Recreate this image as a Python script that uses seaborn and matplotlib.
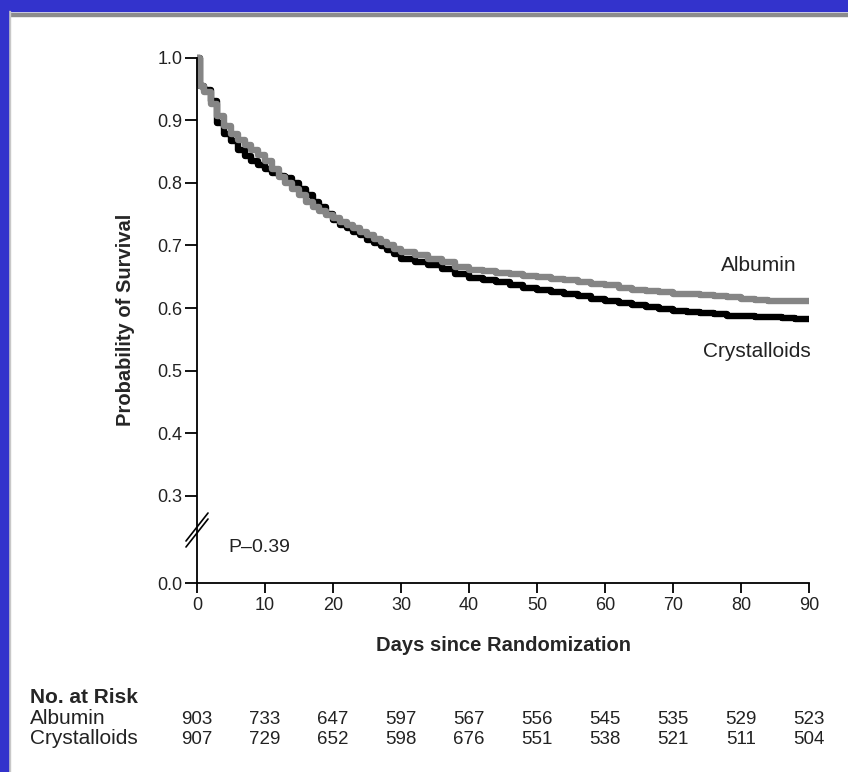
import numpy as np
import pandas as pd
import matplotlib
matplotlib.use("Agg")
import matplotlib.pyplot as plt
import matplotlib.transforms as mtransforms
from matplotlib.patches import Rectangle
import seaborn as sns

# ----------------------------------------------------------------------------
# Data
# ----------------------------------------------------------------------------
days = [0, 0.5, 1, 2, 3, 4, 5, 6, 7, 8, 9, 10, 11, 12, 13, 14, 15, 16, 17, 18,
        19, 20, 21, 22, 23, 24, 25, 26, 27, 28, 29, 30, 32, 34, 36, 38, 40, 42,
        44, 46, 48, 50, 52, 54, 56, 58, 60, 62, 64, 66, 68, 70, 72, 74, 76, 78,
        80, 82, 84, 86, 88, 90]

albumin_surv = [1.000, 0.955, 0.945, 0.925, 0.906, 0.890, 0.878, 0.868, 0.860,
                0.853, 0.845, 0.835, 0.822, 0.810, 0.800, 0.790, 0.780, 0.770,
                0.762, 0.755, 0.749, 0.744, 0.738, 0.732, 0.727, 0.721, 0.716,
                0.711, 0.705, 0.700, 0.694, 0.689, 0.684, 0.679, 0.673, 0.666,
                0.661, 0.659, 0.656, 0.654, 0.651, 0.649, 0.647, 0.645, 0.642,
                0.639, 0.636, 0.632, 0.629, 0.627, 0.625, 0.623, 0.622, 0.621,
                0.619, 0.617, 0.615, 0.613, 0.612, 0.612, 0.611, 0.611]

crystalloid_surv = [1.000, 0.955, 0.948, 0.930, 0.895, 0.878, 0.866, 0.853,
                    0.843, 0.835, 0.829, 0.822, 0.815, 0.811, 0.807, 0.800,
                    0.790, 0.780, 0.769, 0.761, 0.750, 0.740, 0.733, 0.727,
                    0.722, 0.716, 0.709, 0.704, 0.699, 0.693, 0.686, 0.678,
                    0.673, 0.668, 0.662, 0.654, 0.648, 0.645, 0.641, 0.637,
                    0.632, 0.628, 0.625, 0.622, 0.619, 0.615, 0.612, 0.608,
                    0.605, 0.601, 0.598, 0.596, 0.594, 0.592, 0.590, 0.588,
                    0.587, 0.586, 0.585, 0.584, 0.583, 0.583]

risk_days = [0, 10, 20, 30, 40, 50, 60, 70, 80, 90]
risk_albumin = [903, 733, 647, 597, 567, 556, 545, 535, 529, 523]
risk_crystalloids = [907, 729, 652, 598, 676, 551, 538, 521, 511, 504]

y_ticks = [0.3, 0.4, 0.5, 0.6, 0.7, 0.8, 0.9, 1.0]
x_ticks = [0, 10, 20, 30, 40, 50, 60, 70, 80, 90]

# broken axis: 0.0 drawn just below the break
Y_ZERO_POS = 0.161

BLUE = "#3333CC"
GRAY = "#858585"

df = pd.DataFrame({
    "day": days * 2,
    "survival": albumin_surv + crystalloid_surv,
    "group": ["Albumin"] * len(days) + ["Crystalloids"] * len(days),
})

sns.set_style("ticks")
plt.rcParams["font.family"] = ["Liberation Sans", "DejaVu Sans"]

fig = plt.figure(figsize=(8.48, 7.72), dpi=100)
ax = fig.add_axes([197 / 848, 1 - 583 / 772, 612 / 848, 525.5 / 772])

sns.lineplot(
    data=df, x="day", y="survival", hue="group",
    hue_order=["Crystalloids", "Albumin"],
    palette={"Albumin": GRAY, "Crystalloids": "black"},
    estimator=None, drawstyle="steps-post", linewidth=4.6,
    solid_capstyle="butt", legend=False, ax=ax,
)
for line in ax.lines:
    line.set_clip_on(False)

ax.set_xlim(0, 90)
ax.set_ylim(Y_ZERO_POS, 1.0)
ax.set_xticks(x_ticks)
ax.set_xticklabels([str(d) for d in x_ticks])
ax.set_yticks([Y_ZERO_POS] + y_ticks)
ax.set_yticklabels(["0.0"] + [f"{v:.1f}" for v in y_ticks])

for side in ["top", "right"]:
    ax.spines[side].set_visible(False)
for side in ["left", "bottom"]:
    ax.spines[side].set_linewidth(1.3)
    ax.spines[side].set_color("black")

ax.tick_params(axis="x", bottom=True, direction="out", length=7, width=1.3,
               pad=3, labelsize=13, colors="black", labelcolor="#222222")
ax.tick_params(axis="y", left=True, direction="out", length=8.5, width=1.3,
               pad=2, labelsize=13, colors="black", labelcolor="#222222")

ax.set_xlabel("Days since Randomization", fontsize=14.5, fontweight="bold")
ax.xaxis.set_label_coords(0.5, -0.118)
ax.xaxis.label.set_va("center")
ax.set_ylabel("Probability of Survival", fontsize=14.5, fontweight="bold")
ax.yaxis.set_label_coords(-0.117, 0.5)
ax.yaxis.label.set_va("center")

# axis break marks
for dy in (0.0, 0.0114):
    ax.plot([-0.018, 0.018], [0.0685 + dy, 0.1218 + dy], color="black",
            linewidth=1.2, transform=ax.transAxes, clip_on=False)

ax.text(4.6, 0.2097, "P\u20130.39", fontsize=14, color="#222222",
        ha="left", va="baseline")
ax.text(82.6, 0.6595, "Albumin", fontsize=15, color="#222222",
        ha="center", va="baseline")
ax.text(82.4, 0.5223, "Crystalloids", fontsize=15, color="#222222",
        ha="center", va="baseline")

# number at risk table
trans = mtransforms.blended_transform_factory(ax.transData, fig.transFigure)
fig.text(0.0354, 0.0894, "No. at Risk", fontsize=15, fontweight="bold",
         ha="left", va="baseline")
fig.text(0.0354, 0.0622, "Albumin", fontsize=15, color="#222222",
         ha="left", va="baseline")
fig.text(0.0354, 0.0363, "Crystalloids", fontsize=15, color="#222222",
         ha="left", va="baseline")
for d, a, c in zip(risk_days, risk_albumin, risk_crystalloids):
    ax.text(d, 0.0622, str(a), transform=trans, fontsize=13.5,
            color="#222222", ha="center", va="baseline", clip_on=False)
    ax.text(d, 0.0363, str(c), transform=trans, fontsize=13.5,
            color="#222222", ha="center", va="baseline", clip_on=False)

# slide frame: blue band on top and left, thin gray rule under the band
fig.add_artist(Rectangle((0, 1 - 11 / 772), 1, 11 / 772,
                         transform=fig.transFigure, color=BLUE, zorder=5))
fig.add_artist(Rectangle((8 / 848, 1 - 15.5 / 772), 1, 2.5 / 772,
                         transform=fig.transFigure, color="#8c8c8c", zorder=5))
fig.add_artist(Rectangle((0, 0), 8 / 848, 1,
                         transform=fig.transFigure, color=BLUE, zorder=6))
fig.add_artist(Rectangle((8 / 848, 0), 2 / 848, 1 - 11 / 772,
                         transform=fig.transFigure, color="#c8c8c8", zorder=5))

fig.savefig("out.png", dpi=100)
